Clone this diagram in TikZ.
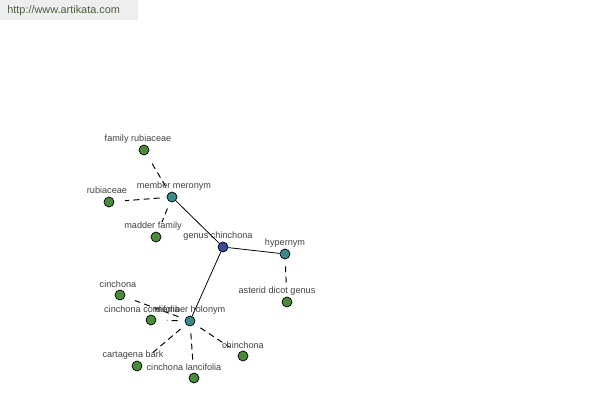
\documentclass[tikz,border=0pt]{standalone}
\usepackage{fontspec}
\setmainfont{Liberation Sans}
\definecolor{hubblue}{HTML}{3D4A9A}
\definecolor{relteal}{HTML}{3A8A8A}
\definecolor{leafgreen}{HTML}{4A8A3A}
\definecolor{headgray}{HTML}{EEEEEE}
\definecolor{headtext}{HTML}{4E5E3E}
\tikzset{
	dot/.style={circle, draw=black, line width=0.4pt, inner sep=0pt, minimum size=0.2cm},
	lab/.style={text=black!75, font=\fontsize{5.2}{6}\selectfont, inner sep=0pt},
	solidedge/.style={line width=0.45pt},
	dashedge/.style={line width=0.55pt, dash pattern=on 3.4pt off 2.4pt, shorten >=6pt, shorten <=4pt}
}
\begin{document}
\begin{tikzpicture}[x=0.02cm, y=-0.02cm]
	\useasboundingbox (0, 0) rectangle (600, 400);
	\fill[headgray] (0, 0) rectangle (138, 20);
	\node[text=headtext, font=\fontsize{6.2}{7}\selectfont, anchor=west, inner sep=0pt] at (7, 11) (url) {http://www.artikata.com};
	% hub and relations
	\node[dot, fill=hubblue] at (223, 247) (genus) {};
	\node[dot, fill=relteal] at (172, 197) (mero) {};
	\node[dot, fill=relteal] at (285, 254) (hyper) {};
	\node[dot, fill=relteal] at (190, 321) (holo) {};
	% leaves
	\node[dot, fill=leafgreen] at (144, 150) (famrub) {};
	\node[dot, fill=leafgreen] at (109, 202) (rub) {};
	\node[dot, fill=leafgreen] at (156, 237) (madder) {};
	\node[dot, fill=leafgreen] at (287, 302) (asterid) {};
	\node[dot, fill=leafgreen] at (120, 295) (cinch) {};
	\node[dot, fill=leafgreen] at (151, 320) (cordi) {};
	\node[dot, fill=leafgreen] at (137, 366) (bark) {};
	\node[dot, fill=leafgreen] at (194, 378) (lanci) {};
	\node[dot, fill=leafgreen] at (243, 356) (chinch) {};
	% edges
	\draw[solidedge] (genus) -- (mero);
	\draw[solidedge] (genus) -- (hyper);
	\draw[solidedge] (genus) -- (holo);
	\draw[dashedge] (mero) -- (famrub);
	\draw[dashedge] (mero) -- (rub);
	\draw[dashedge] (mero) -- (madder);
	\draw[dashedge] (hyper) -- (asterid);
	\draw[dashedge] (holo) -- (cinch);
	\draw[dashedge] (holo) -- (cordi);
	\draw[dashedge] (holo) -- (bark);
	\draw[dashedge] (holo) -- (lanci);
	\draw[dashedge] (holo) -- (chinch);
	% labels
	\node[lab] at (138, 139) (famrub-l) {family rubiaceae};
	\node[lab] at (174, 186) (mero-l) {member meronym};
	\node[lab] at (107, 190) (rub-l) {rubiaceae};
	\node[lab] at (153, 226) (madder-l) {madder family};
	\node[lab] at (218, 236) (genus-l) {genus chinchona};
	\node[lab] at (285, 243) (hyper-l) {hypernym};
	\node[lab] at (277, 291) (asterid-l) {asterid dicot genus};
	\node[lab] at (118, 284) (cinch-l) {cinchona};
	\node[lab] at (142, 309) (cordi-l) {cinchona cordifolia};
	\node[lab] at (190, 310) (holo-l) {member holonym};
	\node[lab] at (133, 355) (bark-l) {cartagena bark};
	\node[lab] at (184, 367) (lanci-l) {cinchona lancifolia};
	\node[lab] at (243, 345) (chinch-l) {chinchona};
\end{tikzpicture}
\end{document}
